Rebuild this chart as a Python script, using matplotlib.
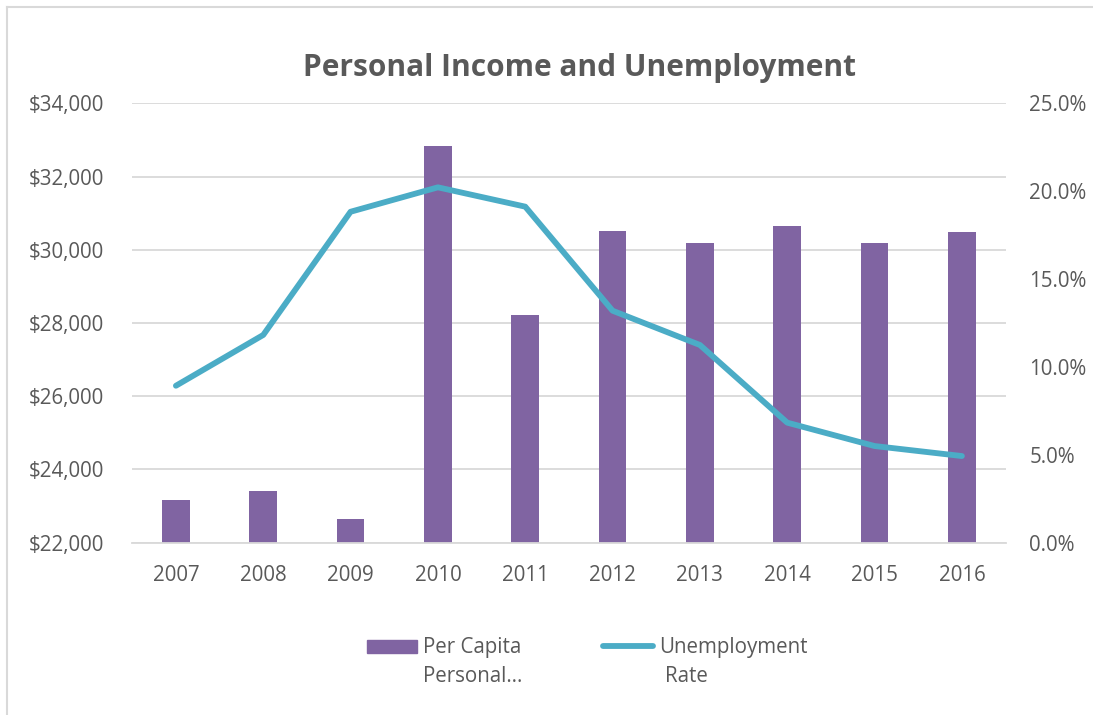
"""
Per capita personal income against the unemployment rate, 2007-2016.
"""
import matplotlib.pyplot as plt
from matplotlib.lines import Line2D
from matplotlib.patches import Rectangle
from matplotlib.ticker import FuncFormatter, MultipleLocator

years = ["2007", "2008", "2009", "2010", "2011", "2012", "2013", "2014", "2015", "2016"]
income = [23170, 23400, 22650, 32830, 28220, 30500, 30180, 30645, 30180, 30480]
unemployment = [8.93, 11.82, 18.83, 20.22, 19.12, 13.2, 11.25, 6.83, 5.5, 4.93]

BAR_COLOR = "#8064A2"
LINE_COLOR = "#4BACC6"
TEXT_COLOR = "#595959"
GRID_COLOR = "#D9D9D9"
W, H = 1093, 715

plt.rcParams["font.family"] = ["Open Sans", "DejaVu Sans"]

fig = plt.figure(figsize=(W / 100, H / 100), dpi=100)
ax = fig.add_axes([0.121, 0.241, 0.799, 0.6145])
ax2 = ax.twinx()

x = range(len(years))
ax.bar(x, income, width=0.317, color=BAR_COLOR, zorder=2)
ax2.plot(x, unemployment, color=LINE_COLOR, linewidth=4.2,
         solid_capstyle="round", solid_joinstyle="round", zorder=3)

# left axis: dollars
ax.set_ylim(22000, 34000)
ax.yaxis.set_major_locator(MultipleLocator(2000))
ax.yaxis.set_major_formatter(FuncFormatter(lambda v, _: f"${v:,.0f}"))
ax.set_xlim(-0.5, len(years) - 0.5)
ax.set_xticks(list(x))
ax.set_xticklabels(years)
ax.grid(axis="y", color=GRID_COLOR, linewidth=1.3, zorder=0)
ax.set_axisbelow(True)

# right axis: percent
ax2.set_ylim(0, 25)
ax2.yaxis.set_major_locator(MultipleLocator(5))
ax2.yaxis.set_major_formatter(FuncFormatter(lambda v, _: f"{v:.1f}%"))

for a in (ax, ax2):
    for side in ("top", "left", "right"):
        a.spines[side].set_visible(False)
    a.spines["bottom"].set_visible(a is ax)
    a.tick_params(length=0, labelsize=14.8, labelcolor=TEXT_COLOR)
ax.spines["bottom"].set_color(GRID_COLOR)
ax.spines["bottom"].set_linewidth(1.3)
ax.tick_params(axis="y", pad=20)
ax.tick_params(axis="x", pad=16)
ax2.tick_params(axis="y", pad=17)

fig.text(0.53, 0.905, "Personal Income and Unemployment", ha="center",
         va="center", fontsize=21.5, fontweight="bold", color=TEXT_COLOR)

# legend, drawn by hand so the keys sit on the first text line
leg_kw = dict(fontsize=14.8, color=TEXT_COLOR, va="center", ha="left")
fig.add_artist(Rectangle((367 / W, 1 - 653 / H), 50 / W, 13 / H,
                         transform=fig.transFigure, color=BAR_COLOR))
fig.text(423 / W, 1 - 648 / H, "Per Capita", **leg_kw)
fig.text(423 / W, 1 - 677 / H, "Personal…", **leg_kw)
fig.add_artist(Line2D([603 / W, 653 / W], [1 - 646 / H, 1 - 646 / H],
                      transform=fig.transFigure, color=LINE_COLOR,
                      linewidth=4.2, solid_capstyle="round"))
fig.text(659 / W, 1 - 648 / H, "Unemployment", **leg_kw)
fig.text(665 / W, 1 - 677 / H, "Rate", **leg_kw)

# light frame around the chart area
fig.add_artist(Line2D([7 / W, 7 / W], [0, 1 - 7 / H],
                      transform=fig.transFigure, color=GRID_COLOR, linewidth=1.5))
fig.add_artist(Line2D([7 / W, 1], [1 - 7 / H, 1 - 7 / H],
                      transform=fig.transFigure, color=GRID_COLOR, linewidth=1.5))

fig.savefig("out.png", dpi=100, facecolor="white")
